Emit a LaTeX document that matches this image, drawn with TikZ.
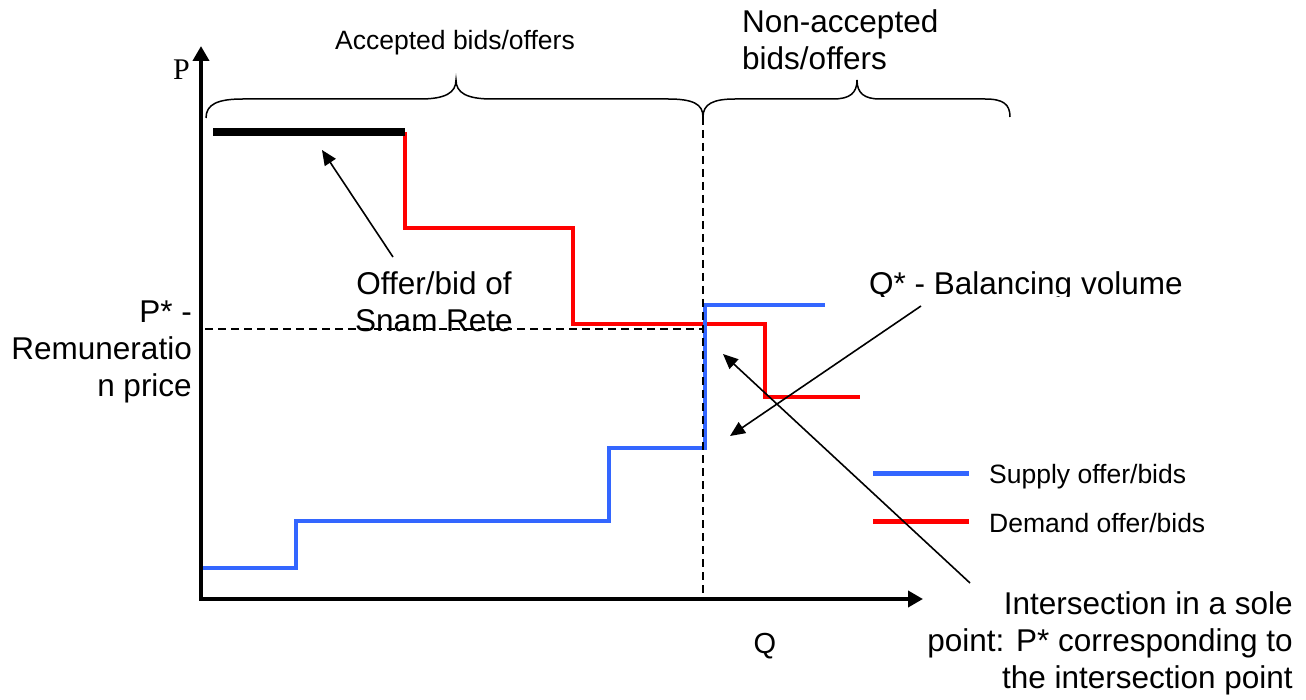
\documentclass[tikz,border=0pt]{standalone}
\usepackage{fontspec}
\setmainfont{Liberation Sans}
\newfontfamily\seriffont{Liberation Serif}
\usetikzlibrary{arrows.meta}
\definecolor{supblue}{RGB}{51,102,255}
\definecolor{demred}{RGB}{255,0,0}
\begin{document}
\begin{tikzpicture}[x=1pt,y=-1pt,
  big/.style={font=\fontsize{31.5}{37}\selectfont, inner sep=0pt},
  small/.style={font=\fontsize{26.5}{32}\selectfont, inner sep=0pt},
  axisline/.style={line width=4pt, -{Triangle[length=15pt,width=16pt]}},
  supply/.style={draw=supblue, line width=4.5pt},
  demand/.style={draw=demred, line width=4.5pt},
  guide/.style={line width=1.5pt, dash pattern=on 8pt off 5pt},
  pointer/.style={line width=1.6pt, -{Triangle[length=15pt,width=13pt]}},
  bracepath/.style={line width=1.5pt},
]
\useasboundingbox (0,0) rectangle (1306,700);
\fill[white] (0,0) rectangle (1306,700);

% axes
\coordinate (O) at (201,599);
\coordinate (Ocorner) at (199,599);
\coordinate (Ptip) at (201,46);
\coordinate (Qtip) at (923,599);
\draw[axisline] (O) -- (Ptip);
\draw[axisline] (Ocorner) -- (Qtip);

% braces
\draw[bracepath] (206,118) .. controls (206,104) and (218,99) .. (243,99) -- (420,99)
  .. controls (445,99) and (456,93) .. (456,80) .. controls (456,93) and (467,99) .. (492,99)
  -- (668,99) .. controls (693,99) and (703,104) .. (703,117);
\draw[bracepath] (703,117) .. controls (703,104) and (713,99) .. (735,99) -- (833,99)
  .. controls (850,99) and (857,93) .. (857,80) .. controls (857,93) and (864,99) .. (880,99)
  -- (985,99) .. controls (1003,99) and (1010,104) .. (1010,117);

% curves
\draw[demand] (405,132) -- (405,228) -- (573,228) -- (573,324) -- (765,324) -- (765,397) -- (860,397);
\draw[line width=8pt] (213,132) -- (405,132);
\draw[supply] (203,568) -- (296,568) -- (296,521) -- (609,521) -- (609,448) -- (705,448) -- (705,305) -- (825,305);

% texts
\node[small, anchor=base] (acc) at (455,50) {Accepted bids/offers};
\node[big, anchor=base west, align=left] (nonacc) at (742,70) {Non-accepted\\bids/offers};
\node[font={\fontsize{30}{34}\selectfont\seriffont}, inner sep=0pt, anchor=base east] (plab) at (190,80) {P};
\node[font=\fontsize{29}{34}\selectfont, inner sep=0pt, anchor=base] (qlab) at (765,653) {Q};
\node[big, anchor=base, align=center] (snam) at (434,332) {Offer/bid of\\Snam Rete};
\node[big, anchor=base east, align=right] (pstar) at (192,396) {P* -\\Remuneratio\\n price};
\begin{scope}
  \clip (840,240) rectangle (1230,297);
  \node[big, anchor=base west] (qstar) at (869,295) {Q* - Balancing volume};
\end{scope}
\node[big, anchor=base east, align=right] (inter) at (1293,688) {Intersection in a sole\\point: P* corresponding to\\the intersection point};

% guides
\draw[guide] (205,329) -- (703,329);
\draw[guide] (703,117) -- (703,599);

% legend
\coordinate (supA) at (873,473);
\coordinate (supB) at (969,473);
\coordinate (demA) at (873,521);
\coordinate (demB) at (969,521);
\draw[supply, line width=5pt] (supA) -- (supB);
\draw[demand, line width=5pt] (demA) -- (demB);
\node[small, anchor=base west] (suptxt) at (989,483) {Supply offer/bids};
\node[small, anchor=base west] (demtxt) at (989,532) {Demand offer/bids};

% pointers
\coordinate (snamFrom) at (393,257);
\coordinate (snamTo) at (322,150);
\coordinate (qFrom) at (921,306);
\coordinate (qTo) at (730,436);
\coordinate (iFrom) at (970,583);
\coordinate (iTo) at (723,354);
\draw[pointer] (snamFrom) -- (snamTo);
\draw[pointer] (qFrom) -- (qTo);
\draw[pointer] (iFrom) -- (iTo);
\end{tikzpicture}
\end{document}
